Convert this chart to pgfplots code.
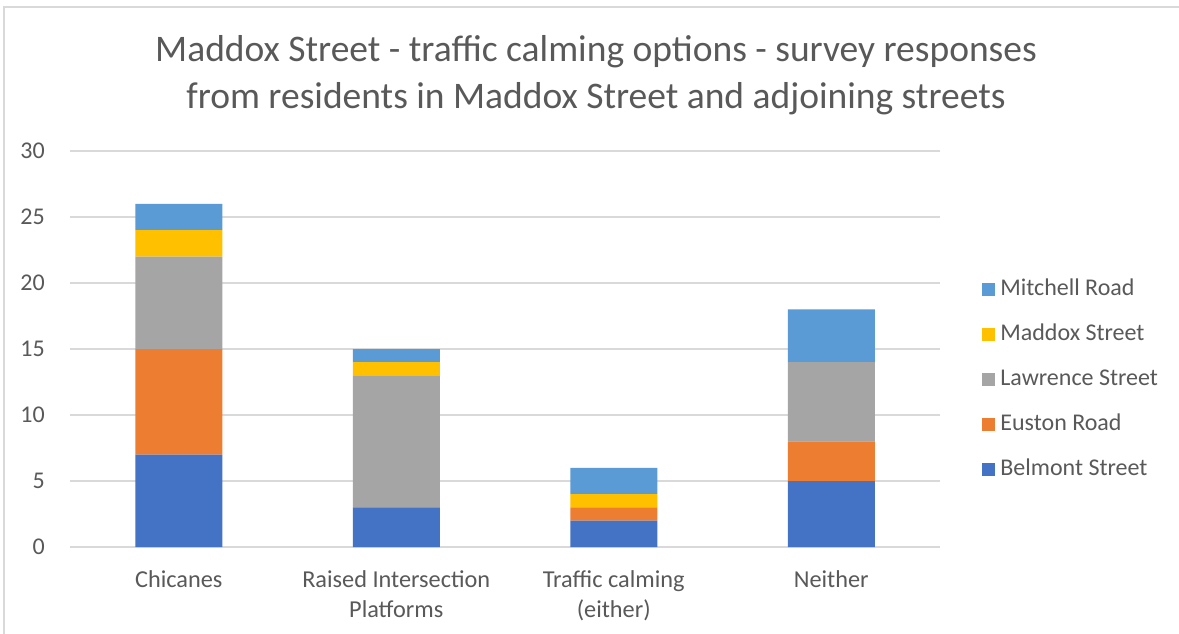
\documentclass[border=0pt]{standalone}
\usepackage{pgfplots}
\pgfplotsset{compat=1.18}
\usepackage{fontspec}
\setmainfont{Carlito}
\definecolor{cBel}{HTML}{4472C4}
\definecolor{cEus}{HTML}{ED7D31}
\definecolor{cLaw}{HTML}{A5A5A5}
\definecolor{cMad}{HTML}{FFC000}
\definecolor{cMit}{HTML}{5B9BD5}
\definecolor{txt}{HTML}{595959}
\definecolor{grd}{HTML}{D9D9D9}
\begin{document}
\begin{tikzpicture}
\useasboundingbox (0,0) rectangle (1179pt,-633pt);
\fill[white] (0,0) rectangle (1179pt,-633pt);
\draw[grd,line width=1.5pt] (4pt,-640pt) -- (4pt,-7pt) -- (1190pt,-7pt);
\node[text=txt,align=center,font=\fontsize{37.5}{47}\selectfont,anchor=north,inner sep=0pt] at (596pt,-35pt)
  {Maddox Street - traffic calming options - survey responses\\from residents in Maddox Street and adjoining streets};
\begin{axis}[
  at={(70pt,-547pt)}, anchor=south west,
  scale only axis, width=870pt, height=396pt,
  xmin=-0.5, xmax=3.5, ymin=0, ymax=30,
  ybar stacked, bar width=87pt,
  axis line style={draw=none},
  ytick={0,5,...,30},
  ymajorgrids, grid style={grd,line width=1.2pt},
  major tick length=0pt,
  xtick={0,1,2,3},
  xticklabels={Chicanes,{Raised Intersection\\Platforms},{Traffic calming\\(either)},Neither},
  xticklabel style={align=center,anchor=north,inner sep=0pt,yshift=-23pt,text=txt,font=\fontsize{24.3}{30}\selectfont},
  yticklabel style={anchor=east,inner sep=0pt,xshift=-25pt,text=txt,font=\fontsize{24}{28}\selectfont},
  /pgf/number format/assume math mode=true,
  reverse legend,
  legend cell align=left,
  legend image code/.code={\fill[#1] (0pt,-6.5pt) rectangle (13pt,6.5pt);},
  legend style={draw=none,fill=none,at={(1.045,0.424)},anchor=west,
    font=\fontsize{24}{28}\selectfont,text=txt,row sep=23pt,
    nodes={inner ysep=0pt,inner xsep=5pt,text height=17pt,text depth=5pt}},
]
\addplot[fill=cBel,draw=none] coordinates {(0,7) (1,3) (2,2) (3,5)};
\addplot[fill=cEus,draw=none] coordinates {(0,8) (1,0) (2,1) (3,3)};
\addplot[fill=cLaw,draw=none] coordinates {(0,7) (1,10) (2,0) (3,6)};
\addplot[fill=cMad,draw=none] coordinates {(0,2) (1,1) (2,1) (3,0)};
\addplot[fill=cMit,draw=none] coordinates {(0,2) (1,1) (2,2) (3,4)};
\legend{Belmont Street,Euston Road,Lawrence Street,Maddox Street,Mitchell Road}
\end{axis}
\end{tikzpicture}
\end{document}
